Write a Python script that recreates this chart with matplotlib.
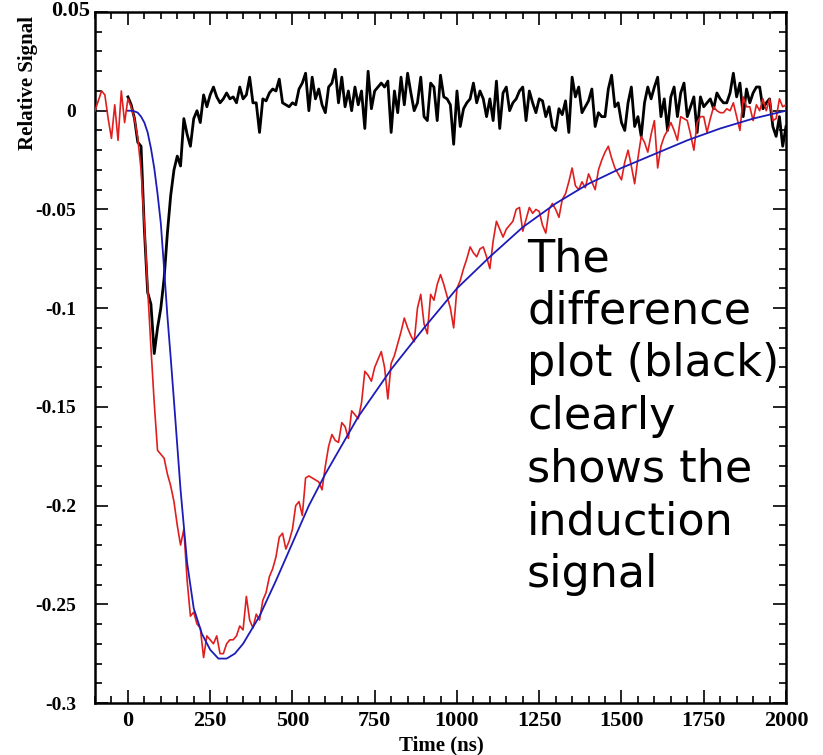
import matplotlib
matplotlib.use('Agg')
import matplotlib.pyplot as plt
import matplotlib.transforms as mtransforms
from matplotlib.ticker import MultipleLocator, FixedLocator
import numpy as np

# ---------------- data ----------------
# red: measured signal, sampled every 10 ns from -100 to 2000 ns
red_signal = [
    0.000, 0.005, 0.010, 0.008, -0.004, -0.014, 0.003, -0.015, 0.010, -0.006,
    0.006, 0.002, -0.004, -0.014, -0.030, -0.058, -0.090, -0.120, -0.148, -0.172,
    -0.174, -0.176, -0.184, -0.190, -0.198, -0.210, -0.220, -0.212, -0.238, -0.256,
    -0.254, -0.260, -0.262, -0.277, -0.266, -0.268, -0.270, -0.266, -0.275, -0.275,
    -0.270, -0.268, -0.268, -0.266, -0.261, -0.263, -0.246, -0.258, -0.262, -0.255,
    -0.258, -0.248, -0.244, -0.236, -0.232, -0.226, -0.216, -0.214, -0.222, -0.218,
    -0.212, -0.200, -0.198, -0.205, -0.186, -0.185, -0.186, -0.187, -0.188, -0.192,
    -0.180, -0.170, -0.164, -0.167, -0.168, -0.158, -0.160, -0.166, -0.152, -0.154,
    -0.156, -0.148, -0.132, -0.134, -0.137, -0.130, -0.126, -0.122, -0.130, -0.146,
    -0.128, -0.124, -0.118, -0.112, -0.105, -0.110, -0.114, -0.117, -0.100, -0.093,
    -0.108, -0.113, -0.093, -0.096, -0.088, -0.083, -0.088, -0.094, -0.100, -0.110,
    -0.090, -0.086, -0.080, -0.075, -0.069, -0.072, -0.074, -0.070, -0.069, -0.074,
    -0.080, -0.066, -0.056, -0.060, -0.064, -0.060, -0.058, -0.056, -0.050, -0.049,
    -0.061, -0.055, -0.049, -0.052, -0.050, -0.051, -0.058, -0.062, -0.050, -0.047,
    -0.050, -0.054, -0.045, -0.042, -0.036, -0.029, -0.038, -0.040, -0.036, -0.039,
    -0.032, -0.036, -0.040, -0.030, -0.025, -0.021, -0.018, -0.024, -0.029, -0.032,
    -0.035, -0.026, -0.020, -0.028, -0.037, -0.024, -0.013, -0.016, -0.021, -0.012,
    -0.005, -0.029, -0.018, -0.013, -0.010, -0.006, -0.010, -0.015, -0.003, -0.004,
    -0.005, -0.012, -0.020, -0.006, -0.003, -0.003, -0.011, -0.004, 0.002, 0.000,
    -0.001, -0.001, 0.001, 0.000, 0.004, -0.003, -0.010, 0.007, 0.002, 0.002,
    -0.005, 0.003, 0.000, 0.006, 0.000, 0.006, -0.005, -0.004, 0.006, 0.002,
    0.003,
]
red_start, red_end = -100, 2000

# black: difference plot, sampled every 10 ns from 0 to 2000 ns
black_signal = [
    0.007, 0.003, -0.004, -0.016, -0.018, -0.060, -0.092, -0.098, -0.123, -0.110,
    -0.100, -0.085, -0.062, -0.043, -0.030, -0.023, -0.028, -0.004, -0.012, -0.018,
    -0.004, 0.000, -0.006, 0.008, 0.002, 0.008, 0.012, 0.007, 0.004, 0.006,
    0.009, 0.006, 0.007, 0.004, 0.012, 0.006, 0.008, 0.017, 0.004, 0.004,
    -0.011, 0.006, 0.005, 0.009, 0.011, 0.010, 0.016, 0.004, 0.003, 0.002,
    0.004, 0.003, 0.011, 0.014, 0.019, 0.000, 0.017, 0.006, 0.011, 0.003,
    -0.001, 0.012, 0.014, 0.021, 0.004, 0.017, 0.002, 0.010, 0.000, 0.012,
    0.003, 0.010, -0.009, 0.020, 0.001, 0.010, 0.012, 0.014, 0.012, 0.015,
    -0.011, 0.010, -0.001, 0.017, 0.003, 0.019, 0.009, 0.000, 0.004, 0.017,
    -0.003, -0.005, 0.014, 0.012, -0.005, 0.018, 0.007, 0.006, 0.003, -0.017,
    0.010, -0.008, 0.001, 0.004, 0.006, 0.014, 0.004, 0.010, 0.006, -0.003,
    0.006, -0.005, 0.015, -0.009, 0.009, 0.012, 0.000, 0.004, 0.006, 0.010,
    0.012, -0.005, 0.010, 0.004, -0.001, 0.006, 0.005, -0.003, 0.002, -0.008,
    -0.010, 0.001, -0.002, 0.005, -0.011, 0.017, 0.007, 0.012, -0.001, 0.002,
    0.005, 0.011, -0.008, -0.001, -0.003, -0.003, 0.011, 0.018, 0.002, 0.004,
    -0.006, -0.010, 0.004, 0.012, -0.008, -0.003, -0.013, 0.004, 0.012, 0.006,
    0.012, 0.017, -0.003, 0.006, -0.010, 0.007, 0.012, -0.003, 0.009, 0.014,
    -0.003, 0.002, 0.007, -0.011, 0.007, 0.002, 0.004, 0.006, 0.001, 0.009,
    0.006, 0.004, 0.004, 0.009, 0.019, 0.007, 0.014, -0.003, 0.011, 0.004,
    0.009, 0.012, 0.012, 0.001, 0.004, 0.006, -0.008, -0.013, -0.003, -0.018,
    -0.008,
]
black_start, black_end = 0, 2000

# blue: fitted curve
blue_time = [0, 10, 20, 30, 40, 50, 60, 70, 80, 90, 100, 110, 120, 130, 140,
             160, 180, 200, 225, 250, 275, 300, 325, 350, 400, 450, 500, 550,
             600, 700, 800, 900, 1000, 1100, 1200, 1300, 1400, 1500, 1600,
             1700, 1800, 1900, 2000]
blue_fit = [0.0, 0.0, -0.0003, -0.001, -0.003, -0.006, -0.011, -0.019, -0.029,
            -0.042, -0.057, -0.080, -0.104, -0.125, -0.147, -0.192, -0.229,
            -0.252, -0.265, -0.273, -0.2775, -0.2775, -0.275, -0.270, -0.256,
            -0.238, -0.219, -0.200, -0.184, -0.155, -0.131, -0.110, -0.090,
            -0.074, -0.059, -0.047, -0.037, -0.029, -0.022, -0.015, -0.009,
            -0.004, 0.0]

x_ticks = [0, 250, 500, 750, 1000, 1250, 1500, 1750, 2000]
y_ticks = [-0.3, -0.25, -0.2, -0.15, -0.1, -0.05, 0, 0.05]
y_tick_labels = ["-0.3", "-0.25", "-0.2", "-0.15", "-0.1", "-0.05", "0", "0.05"]

annotation = "The\ndifference\nplot (black)\nclearly\nshows the\ninduction\nsignal"

# ---------------- figure ----------------
W, H = 823, 755
fig = plt.figure(figsize=(W / 100, H / 100), dpi=100)
fig.patch.set_facecolor('white')
ax = fig.add_axes([95 / W, 1 - 703 / H, (786 - 95) / W, (703 - 12) / H])

t_red = np.linspace(red_start, red_end, len(red_signal))
t_black = np.linspace(black_start, black_end, len(black_signal))

ax.plot(t_black, black_signal, color='black', lw=2.0, zorder=2)
ax.plot(t_red, red_signal, color='#e01e1e', lw=1.2, zorder=3)
ax.plot(blue_time, blue_fit, color='#1c1cb8', lw=1.3, zorder=4)

ax.set_xlim(-100, 2000)
ax.set_ylim(-0.3, 0.05)

ax.xaxis.set_major_locator(FixedLocator(x_ticks))
ax.xaxis.set_minor_locator(MultipleLocator(50))
ax.yaxis.set_major_locator(FixedLocator(y_ticks))
ax.yaxis.set_minor_locator(MultipleLocator(0.01))
ax.set_yticklabels(y_tick_labels)

for s in ax.spines.values():
    s.set_linewidth(1.8)

ax.tick_params(which='both', direction='in', top=True, right=True, width=1.2)
ax.tick_params(which='major', length=9.4)
ax.tick_params(which='minor', length=5)
ax.tick_params(axis='y', pad=13.5)
ax.tick_params(axis='x', pad=6)

serif = 'Liberation Serif'
for lab in ax.get_xticklabels():
    lab.set_fontfamily(serif)
    lab.set_fontweight('bold')
    lab.set_fontsize(16)
ylabs = ax.get_yticklabels()
for lab in ylabs:
    lab.set_fontfamily(serif)
    lab.set_fontweight('bold')
    lab.set_fontsize(14)
# top label "0.05" sits a bit further right and larger in the reference
top = ylabs[-1]
top.set_fontsize(16)
top.set_transform(top.get_transform() +
                  mtransforms.ScaledTranslation(0.14, 0.03, fig.dpi_scale_trans))

fig.text(441 / W, 1 - 745 / H, "Time (ns)", ha='center', va='center',
         fontfamily=serif, fontweight='bold', fontsize=15)
fig.text(28 / W, 1 - 83 / H, "Relative Signal", ha='center', va='center',
         rotation=90, fontfamily=serif, fontweight='bold', fontsize=15)

fig.text(527 / W, 1 - 237 / H, annotation, ha='left', va='top',
         fontfamily='DejaVu Sans', fontsize=32, linespacing=1.285, color='black')

fig.savefig('out.png', dpi=100, facecolor='white')
